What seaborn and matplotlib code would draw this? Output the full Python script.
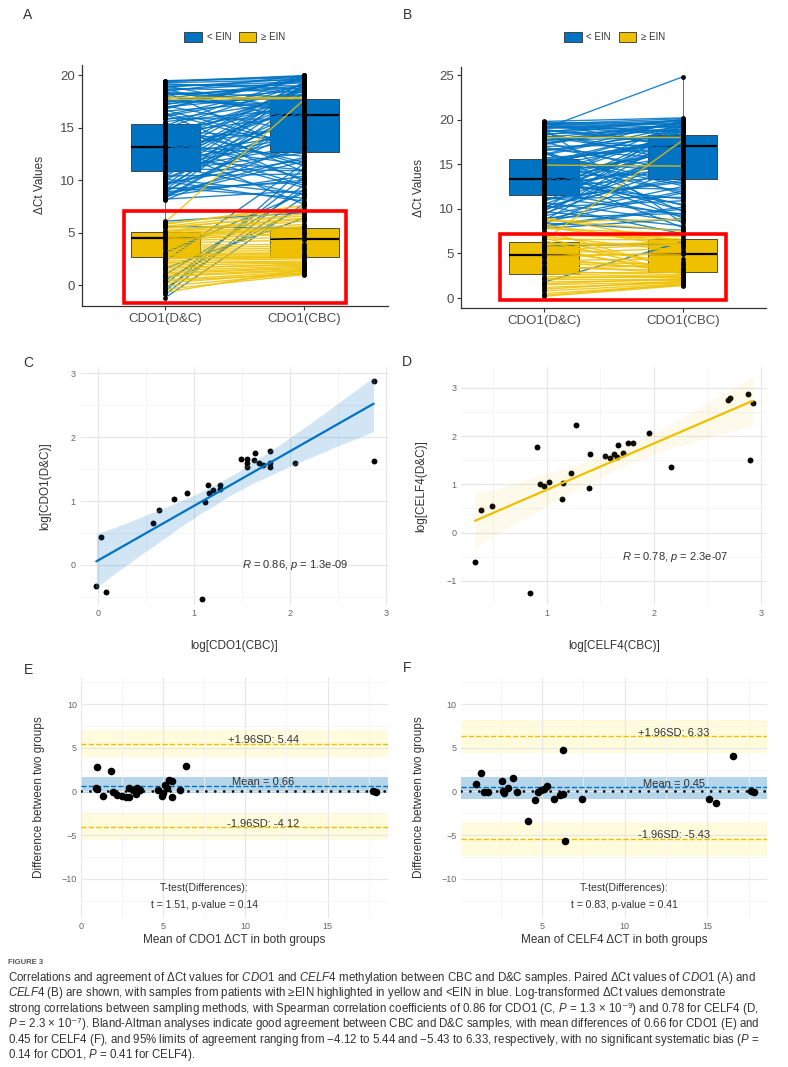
import numpy as np
import pandas as pd
import seaborn as sns
import matplotlib.pyplot as plt
from matplotlib.patches import Patch, Rectangle
from matplotlib.collections import PolyCollection
from matplotlib.ticker import AutoMinorLocator

sns.set_theme(style="white")
plt.rcParams["font.family"] = ["Liberation Sans", "DejaVu Sans"]
plt.rcParams["mathtext.fontset"] = "custom"
plt.rcParams["mathtext.rm"] = "Liberation Sans"
plt.rcParams["mathtext.it"] = "Liberation Sans:italic"
plt.rcParams["mathtext.sf"] = "DejaVu Sans"

BLUE = "#0073C2"
YELLOW = "#EFC000"
DARK = "#333333"
GREY = "#4d4d4d"

# ---- panel A : paired dCt values, CDO1 ----
A_blue_dc = [19.5, 19.3, 19.1, 18.9, 18.8, 18.6, 18.4, 18.2, 18.0, 17.8,
             17.6, 17.3, 17.1, 16.9, 16.6, 16.4, 16.1, 15.9, 15.6, 15.3,
             15.0, 14.8, 14.5, 14.2, 14.0, 13.7, 13.4, 13.2, 12.9, 12.6,
             12.3, 12.0, 11.8, 11.5, 11.2, 11.0, 10.7, 10.4, 10.2, 9.9,
             9.7, 9.5, 9.2, 9.0, 8.8, 8.6, 8.4, 8.2, 8.1, 19.4,
             18.7, 17.5, 16.3, 14.6, 13.0, 11.7, 10.9, 10.0, 9.3, 8.5,
             19.45, 19.2, 18.95, 18.5, 18.3, 18.1, 17.7, 17.4, 17.0, 16.7,
             16.2, 15.8, 15.2, 14.9, 14.3, 13.8, 13.5, 12.8, 12.4, 12.1,
             11.4, 11.1, 10.6, 10.3, 9.6, 9.1, 8.7, 8.3, 19.0, 18.4,
             17.2, 15.5, 14.4, 13.3, 12.2, 11.3, 10.1, 9.4, 8.9, 16.8,
             -1.2, -0.9, -0.6, -0.3, 0.1, 0.5, 1.0, 1.6, 2.3, 3.1, 5.6, 6.1]
A_blue_cbc = [19.9, 19.6, 19.0, 19.7, 18.4, 19.3, 17.9, 18.8, 16.5, 19.5,
              17.2, 18.1, 14.6, 19.8, 17.6, 12.9, 18.5, 15.8, 16.9, 11.4,
              19.2, 13.8, 16.2, 10.1, 17.4, 18.9, 12.3, 15.1, 9.3, 17.0,
              19.4, 11.0, 14.2, 8.6, 18.3, 13.3, 16.7, 10.6, 15.4, 8.0,
              12.0, 19.1, 9.8, 14.9, 17.8, 11.8, 16.0, 9.0, 13.6, 20.0,
              15.6, 18.6, 10.8, 17.3, 7.7, 19.0, 12.6, 16.4, 8.3, 10.4,
              19.8, 18.7, 19.4, 20.0, 17.5, 19.0, 16.8, 19.6, 18.2, 13.2,
              19.1, 17.7, 19.9, 11.7, 18.0, 15.0, 9.5, 19.3, 14.4, 17.1,
              18.8, 10.9, 16.1, 19.2, 13.0, 18.4, 12.2, 15.7, 16.6, 12.5,
              19.7, 9.9, 18.5, 11.5, 17.6, 14.0, 8.7, 16.8, 10.0, 20.0,
              7.8, 9.6, 11.2, 8.4, 10.3, 7.5, 9.1, 6.4, 11.6, 8.8, 5.4, 6.9]
A_yel_dc = [6.0, 5.8, 5.6, 5.4, 5.2, 5.0, 4.9, 4.7, 4.5, 4.4, 4.2, 4.0, 3.4, 3.2, 3.0, 2.8,
            2.6, 2.5, 2.3, 2.1, 1.9, 1.7, 1.4, 1.1, 0.8, 0.5, 0.2, -0.1, -0.4, -0.7, 17.9, 17.7,
            5.9, 5.5, 5.1, 4.8, 4.6, 4.3, 3.8, 3.6, 2.9, 2.7, 2.2, 1.6, 1.2, 0.9, 0.4]
A_yel_cbc = [17.7, 7.6, 7.1, 6.8, 6.4, 6.1, 5.8, 5.5, 5.2, 4.9, 4.6, 4.3, 3.5, 3.3, 3.1, 2.9,
             2.8, 2.6, 2.5, 2.3, 2.1, 1.9, 1.8, 1.6, 1.4, 1.3, 1.2, 1.1, 1.0, 1.5, 17.9, 17.8,
             7.3, 6.6, 6.3, 5.6, 5.4, 5.0, 3.9, 3.7, 3.0, 2.7, 2.2, 2.0, 1.7, 1.5, 1.1]
# box quartiles [D&C, CBC]
A_blue_q1, A_blue_med, A_blue_q3 = [10.9, 12.7], [13.2, 16.2], [15.4, 17.8]
A_yel_q1, A_yel_med, A_yel_q3 = [2.7, 2.7], [4.5, 4.4], [5.1, 5.4]

# ---- panel B ----
B_blue_dc = [19.8, 19.6, 19.4, 19.2, 19.0, 18.8, 18.6, 18.4, 18.2, 18.0,
             17.7, 17.5, 17.2, 17.0, 16.7, 16.5, 16.2, 16.0, 15.7, 15.5,
             15.2, 15.0, 14.7, 14.5, 14.2, 14.0, 13.7, 13.5, 13.2, 13.0,
             12.7, 12.5, 12.2, 12.0, 11.7, 11.5, 11.2, 11.0, 10.7, 10.5,
             10.2, 10.0, 9.7, 9.5, 9.2, 9.0, 8.7, 8.4, 8.1, 7.8,
             19.5, 18.5, 17.4, 16.4, 15.4, 14.4, 13.4, 12.4, 11.4, 10.4,
             19.7, 19.5, 19.3, 19.1, 18.9, 18.7, 18.3, 18.1, 17.8, 17.3,
             16.9, 16.6, 16.1, 15.8, 15.3, 14.8, 14.3, 13.8, 13.3, 12.8,
             12.3, 11.8, 11.3, 10.8, 10.3, 9.8, 9.3, 8.8, 8.3, 8.0,
             19.6, 18.9, 17.6, 16.3, 15.1, 13.9, 12.6, 11.1, 9.9, 8.5,
             19.0, 1.8, 5.8]
B_blue_cbc = [20.2, 19.1, 19.9, 18.3, 19.6, 17.5, 20.0, 18.9, 16.4, 19.4,
              18.0, 13.5, 19.7, 17.2, 15.6, 18.7, 12.8, 19.3, 16.9, 14.1,
              19.0, 11.9, 17.8, 15.0, 9.8, 18.5, 13.9, 16.6, 10.5, 19.8,
              14.6, 12.2, 17.0, 9.2, 15.9, 18.2, 11.3, 13.2, 8.6, 16.2,
              10.9, 19.5, 8.1, 14.8, 12.5, 9.5, 17.4, 7.6, 10.2, 8.9,
              18.6, 15.3, 19.2, 11.6, 17.7, 9.0, 16.0, 13.7, 18.8, 7.2,
              19.5, 20.1, 18.6, 19.8, 17.1, 19.3, 20.0, 15.8, 18.9, 19.6,
              14.3, 18.1, 19.9, 12.6, 17.5, 19.2, 10.4, 16.5, 18.7, 11.1,
              15.2, 19.0, 9.4, 17.9, 13.6, 16.3, 18.4, 12.0, 14.7, 10.0,
              16.8, 8.4, 19.7, 9.7, 18.0, 7.9, 17.3, 13.0, 15.5, 11.8,
              24.8, 6.3, 6.1]
B_yel_dc = [9.0, 8.6, 8.2, 7.8, 7.5, 7.2, 6.9, 6.6, 6.4, 6.1, 5.9, 5.6, 5.3, 5.0, 4.8, 4.5, 4.2,
            3.9, 3.6, 3.3, 3.0, 2.7, 2.4, 2.1, 1.8, 1.5, 1.2, 0.8, 0.5, 0.2, 14.9, 18.0, 6.5,
            8.8, 8.0, 7.0, 6.7, 6.2, 5.7, 5.4, 4.6, 4.0, 3.4, 2.8, 2.2, 1.6, 1.0, 0.3]
B_yel_cbc = [6.3, 8.8, 6.0, 7.2, 3.1, 6.6, 5.3, 6.5, 2.9, 5.9, 4.0, 6.4, 3.2, 5.6, 4.9, 3.0, 4.4,
             3.4, 2.8, 3.7, 2.6, 2.4, 2.3, 2.1, 2.0, 1.8, 1.7, 1.6, 1.5, 1.4, 14.8, 18.0, 17.7,
             7.5, 5.8, 6.9, 3.4, 6.2, 2.7, 6.0, 5.1, 3.8, 3.1, 2.9, 2.5, 2.2, 1.9, 1.5]
B_blue_q1, B_blue_med, B_blue_q3 = [11.5, 13.3], [13.4, 17.0], [15.6, 18.3]
B_yel_q1, B_yel_med, B_yel_q3 = [2.7, 2.9], [4.8, 4.9], [6.3, 6.6]

cat_labels = ["CDO1(D&C)", "CDO1(CBC)"]

# ---- panel C : log CDO1 ----
C_x = [2.87, 2.87, 0.03, -0.02, 0.08, 1.08, 0.57, 0.63, 0.79, 0.92, 1.11, 1.14, 1.15, 1.20,
       1.27, 1.27, 1.49, 1.55, 1.55, 1.55, 1.63, 1.62, 1.68, 1.72, 1.79, 1.79, 1.79, 2.05]
C_y = [2.88, 1.63, 0.43, -0.33, -0.42, -0.53, 0.65, 0.86, 1.03, 1.12, 0.98, 1.25, 1.12, 1.17,
       1.25, 1.19, 1.66, 1.66, 1.59, 1.53, 1.75, 1.64, 1.59, 1.57, 1.78, 1.59, 1.54, 1.59]
C_r, C_p = "0.86", "1.3e-09"

# ---- panel D : log CELF4 ----
D_x = [0.33, 0.39, 0.49, 0.84, 0.91, 0.94, 0.97, 1.02, 1.14, 1.15, 1.23, 1.27, 1.39, 1.40, 1.54,
       1.59, 1.63, 1.65, 1.66, 1.71, 1.76, 1.80, 1.95, 2.16, 2.69, 2.71, 2.88, 2.89, 2.92]
D_y = [-0.60, 0.47, 0.56, -1.26, 1.77, 1.01, 0.96, 1.04, 0.69, 1.02, 1.24, 2.22, 0.92, 1.62, 1.58,
       1.54, 1.62, 1.57, 1.82, 1.64, 1.85, 1.85, 2.06, 1.36, 2.74, 2.78, 2.87, 1.50, 2.68]
D_r, D_p = "0.78", "2.3e-07"

# ---- panel E : Bland-Altman CDO1 ----
E_mean_ct = [0.99, 0.91, 0.99, 1.36, 1.83, 1.93, 2.17, 2.47, 2.74, 2.94, 2.94, 3.18, 3.35, 3.43,
             3.59, 4.71, 4.91, 4.97, 5.11, 5.21, 5.38, 5.52, 5.52, 6.02, 6.39, 17.79, 17.95]
E_diff = [2.82, 0.38, 0.27, -0.50, 2.36, -0.10, -0.38, -0.50, -0.65, -0.65, 0.38, 0.19, -0.27, 0.38,
          0.11, 0.11, -0.57, -0.19, 0.69, 0.38, 1.33, 1.14, -0.65, 0.11, 2.86, 0.00, -0.08]
E_limits = [5.44, 0.66, -4.12]          # +1.96SD, mean, -1.96SD
E_bands = [(3.9, 7.05), (-0.2, 1.6), (-5.6, -2.5)]
E_t, E_pval = "1.51", "0.14"

# ---- panel F : Bland-Altman CELF4 ----
F_mean_ct = [0.98, 1.32, 1.52, 1.72, 2.57, 2.63, 2.73, 2.93, 3.27, 3.49, 4.13, 4.58, 4.78, 4.94,
             5.10, 5.30, 5.70, 6.09, 6.25, 6.25, 6.39, 7.45, 15.10, 15.54, 16.55, 17.66, 17.82]
F_diff = [0.84, 2.06, -0.08, -0.08, 1.14, 0.00, -0.19, 0.38, 1.52, -0.08, -3.35, -0.95, -0.11, 0.19,
          0.27, 0.57, -0.88, -0.38, -0.27, 4.76, -5.71, -0.84, -0.88, -1.37, 4.00, 0.08, -0.08]
F_limits = [6.33, 0.45, -5.43]
F_bands = [(4.4, 8.2), (-0.84, 1.6), (-7.35, -3.5)]
F_t, F_pval = "0.83", "0.41"


def paired_df(dc, cbc, group):
    n = len(dc)
    return pd.DataFrame({"id": [group + str(i) for i in range(n)] * 2,
                         "pos": [0] * n + [1] * n,
                         "value": list(dc) + list(cbc),
                         "group": group})


def draw_paired(ax, blue, yel, blue_q, yel_q, ylim, yticks, redbox):
    df = pd.concat([paired_df(blue[0], blue[1], "< EIN"),
                    paired_df(yel[0], yel[1], "≥ EIN")], ignore_index=True)
    for grp, (q1, med, q3), col in [("< EIN", blue_q, BLUE), ("≥ EIN", yel_q, YELLOW)]:
        stats = []
        for pos in (0, 1):
            vals = df.loc[(df.group == grp) & (df.pos == pos), "value"]
            iqr = q3[pos] - q1[pos]
            inside = vals[(vals >= q1[pos] - 1.5 * iqr) & (vals <= q3[pos] + 1.5 * iqr)]
            stats.append(dict(q1=q1[pos], med=med[pos], q3=q3[pos],
                              whislo=inside.min(), whishi=inside.max()))
        ax.bxp(stats, positions=[0, 1], widths=0.5, patch_artist=True,
               showfliers=False, showcaps=False,
               boxprops=dict(facecolor=col, edgecolor=DARK, linewidth=0.6),
               medianprops=dict(color="black", linewidth=1.6),
               whiskerprops=dict(color="#555555", linewidth=0.6), zorder=1)
    sns.lineplot(data=df, x="pos", y="value", hue="group", units="id", estimator=None,
                 palette={"< EIN": BLUE, "≥ EIN": YELLOW}, linewidth=1.0, alpha=0.85,
                 legend=False, sort=False, ax=ax, zorder=2)
    sns.scatterplot(data=df, x="pos", y="value", color="black", s=12, linewidth=0,
                    legend=False, ax=ax, zorder=3)
    x0, x1, y0, y1 = redbox
    ax.add_patch(Rectangle((x0, y0), x1 - x0, y1 - y0, fill=False, edgecolor="#ff0000",
                           linewidth=2.6, zorder=4, clip_on=False))
    ax.set_xlim(-0.6, 1.6)
    ax.set_ylim(*ylim)
    ax.set_xticks([0, 1])
    ax.set_xticklabels(cat_labels)
    ax.set_yticks(yticks)
    ax.set_xlabel("")
    ax.set_ylabel("ΔCt Values", fontsize=8.5, color=DARK, labelpad=10)
    for s in ["top", "right"]:
        ax.spines[s].set_visible(False)
    for s in ["left", "bottom"]:
        ax.spines[s].set_color(DARK)
        ax.spines[s].set_linewidth(0.9)
    ax.tick_params(axis="both", length=3, width=0.8, color=DARK, labelsize=9.5,
                   labelcolor=GREY, pad=2, left=True, bottom=True)
    ax.set_facecolor("white")


def minimal(ax):
    for s in ax.spines.values():
        s.set_visible(False)
    ax.xaxis.set_minor_locator(AutoMinorLocator(2))
    ax.yaxis.set_minor_locator(AutoMinorLocator(2))
    ax.grid(which="major", color="#e6e6e6", linewidth=0.8)
    ax.grid(which="minor", color="#f2f2f2", linewidth=0.5)
    ax.set_axisbelow(True)
    ax.tick_params(axis="both", which="both", length=0, labelsize=6.5, labelcolor="#666666", pad=3)
    ax.set_facecolor("white")


def draw_corr(ax, x, y, col, band_alpha, xlim, ylim, xticks, yticks, xlab, ylab, r, p, tx, ty):
    sns.regplot(x=np.array(x), y=np.array(y), ax=ax, color=col, ci=95, seed=3,
                scatter_kws=dict(s=18, color="black", linewidths=0, alpha=1),
                line_kws=dict(linewidth=1.6))
    for coll in ax.collections:
        if isinstance(coll, PolyCollection):
            coll.set_alpha(band_alpha)
    minimal(ax)
    ax.set_xlim(*xlim)
    ax.set_ylim(*ylim)
    ax.set_xticks(xticks)
    ax.set_yticks(yticks)
    ax.set_xlabel(xlab, fontsize=8.5, color=DARK, labelpad=16)
    ax.set_ylabel(ylab, fontsize=8.5, color=DARK, labelpad=14)
    ax.text(tx, ty, "$\\mathit{R}$ = " + r + ", $\\mathit{p}$ = " + p, fontsize=8,
            color=DARK, ha="left", va="center")


def draw_ba(ax, mx, d, limits, bands, t, pv, xlim, xticks, xlab, lab_x, test_x):
    for (lo, hi), c in zip(bands, ["#fffbdc", "#b4d5ea", "#fffbdc"]):
        ax.axhspan(lo, hi, color=c, zorder=0.5, linewidth=0)
    ax.axhline(limits[0], color=YELLOW, ls="--", lw=1, zorder=1)
    ax.axhline(limits[2], color=YELLOW, ls="--", lw=1, zorder=1)
    ax.axhline(limits[1], color=BLUE, ls="--", lw=1, zorder=1)
    ax.axhline(0, color="black", ls=(0, (0.01, 3.2)), lw=2.0, dash_capstyle="round", zorder=1)
    sns.scatterplot(x=mx, y=d, color="black", s=30, linewidth=0, ax=ax, zorder=3)
    minimal(ax)
    ax.set_xlim(*xlim)
    ax.set_ylim(-14.5, 13.1)
    ax.set_xticks(xticks)
    ax.set_yticks([-10, -5, 0, 5, 10])
    ax.text(lab_x, limits[0] + 0.4, f"+1.96SD: {limits[0]:.2f}", fontsize=8, color=DARK,
            ha="center", va="center")
    ax.text(lab_x, limits[1] + 0.4, f"Mean = {limits[1]:.2f}", fontsize=8, color=DARK,
            ha="center", va="center")
    ax.text(lab_x, limits[2] + 0.4, f"-1.96SD: {limits[2]:.2f}", fontsize=8, color=DARK,
            ha="center", va="center")
    ax.text(test_x, -11.05, "T-test(Differences):", fontsize=7.5, color=DARK, ha="center", va="center")
    ax.text(test_x, -13.0, f"t = {t}, p-value = {pv}", fontsize=7.5, color=DARK, ha="center", va="center")
    ax.set_xlabel(xlab, fontsize=8.5, color=DARK, labelpad=2)
    ax.set_ylabel("Difference between two groups", fontsize=8.5, color=DARK, labelpad=12)


fig = plt.figure(figsize=(7.88, 10.67), dpi=100)
fig.patch.set_facecolor("white")

axA = fig.add_axes([0.104, 0.7132, 0.388, 0.2259])
axB = fig.add_axes([0.585, 0.7113, 0.387, 0.2259])
axC = fig.add_axes([0.1015, 0.433, 0.391, 0.223])
axD = fig.add_axes([0.585, 0.433, 0.388, 0.223])
axE = fig.add_axes([0.1028, 0.1396, 0.390, 0.2259])
axF = fig.add_axes([0.585, 0.1396, 0.388, 0.2259])

draw_paired(axA, (A_blue_dc, A_blue_cbc), (A_yel_dc, A_yel_cbc),
            (A_blue_q1, A_blue_med, A_blue_q3), (A_yel_q1, A_yel_med, A_yel_q3),
            (-2.0, 21.0), [0, 5, 10, 15, 20], (-0.3, 1.3, -1.7, 7.1))
draw_paired(axB, (B_blue_dc, B_blue_cbc), (B_yel_dc, B_yel_cbc),
            (B_blue_q1, B_blue_med, B_blue_q3), (B_yel_q1, B_yel_med, B_yel_q3),
            (-1.12, 25.9), [0, 5, 10, 15, 20, 25], (-0.32, 1.31, -0.2, 7.2))

draw_corr(axC, C_x, C_y, BLUE, 0.18, (-0.19, 3.02), (-0.63, 3.1), [0, 1, 2, 3], [0, 1, 2, 3],
          "log[CDO1(CBC)]", "log[CDO1(D&C)]", C_r, C_p, 1.5, 0.0)
draw_corr(axD, D_x, D_y, YELLOW, 0.08, (0.2, 3.05), (-1.5, 3.43), [1, 2, 3], [-1, 0, 1, 2, 3],
          "log[CELF4(CBC)]", "log[CELF4(D&C)]", D_r, D_p, 1.7, -0.5)

draw_ba(axE, E_mean_ct, E_diff, E_limits, E_bands, E_t, E_pval, (0.0, 18.7), [0, 5, 10, 15],
        "Mean of CDO1 ΔCT in both groups", 11.1, 7.5)
draw_ba(axF, F_mean_ct, F_diff, F_limits, F_bands, F_t, F_pval, (0.1, 18.6), [5, 10, 15],
        "Mean of CELF4 ΔCT in both groups", 13.0, 10.0)

# legends above A and B
handles = [Patch(facecolor=BLUE, edgecolor=DARK, linewidth=0.6),
           Patch(facecolor=YELLOW, edgecolor=DARK, linewidth=0.6)]
for xc in (0.298, 0.780):
    fig.legend(handles, ["< EIN", "≥ EIN"], loc="center", bbox_to_anchor=(xc, 0.965),
               ncol=2, frameon=False, fontsize=7, handlelength=1.8, handleheight=1.2,
               columnspacing=0.8, handletextpad=0.5, labelcolor=DARK)

# panel letters
for lab, px, py in [("A", 28, 15), ("B", 407, 15), ("C", 28, 363),
                    ("D", 407, 362), ("E", 28, 670), ("F", 407, 668)]:
    fig.text(px / 788, 1 - py / 1067, lab, fontsize=10, color=DARK, ha="center", va="center")

# caption
fig.text(8 / 788, 1 - 963 / 1067, "FIGURE 3", fontsize=5.5, fontweight="bold",
         color="#555555", ha="left", va="center")
caption = [
    "Correlations and agreement of ΔCt values for $\\mathit{CDO1}$ and $\\mathit{CELF4}$ methylation between CBC and D&C samples. Paired ΔCt values of $\\mathit{CDO1}$ (A) and",
    "$\\mathit{CELF4}$ (B) are shown, with samples from patients with ≥EIN highlighted in yellow and <EIN in blue. Log-transformed ΔCt values demonstrate",
    "strong correlations between sampling methods, with Spearman correlation coefficients of 0.86 for CDO1 (C, $\\mathit{P}$ = 1.3 × 10$\\mathsf{⁻⁹}$) and 0.78 for CELF4 (D,",
    "$\\mathit{P}$ = 2.3 × 10$\\mathsf{⁻⁷}$). Bland-Altman analyses indicate good agreement between CBC and D&C samples, with mean differences of 0.66 for CDO1 (E) and",
    "0.45 for CELF4 (F), and 95% limits of agreement ranging from −4.12 to 5.44 and −5.43 to 6.33, respectively, with no significant systematic bias ($\\mathit{P}$ =",
    "0.14 for CDO1, $\\mathit{P}$ = 0.41 for CELF4).",
]
for i, line in enumerate(caption):
    fig.text(8 / 788, 1 - (978 + 15.4 * i) / 1067, line, fontsize=8.3, color=DARK,
             ha="left", va="center")

fig.savefig("out.png", dpi=100, facecolor="white")
